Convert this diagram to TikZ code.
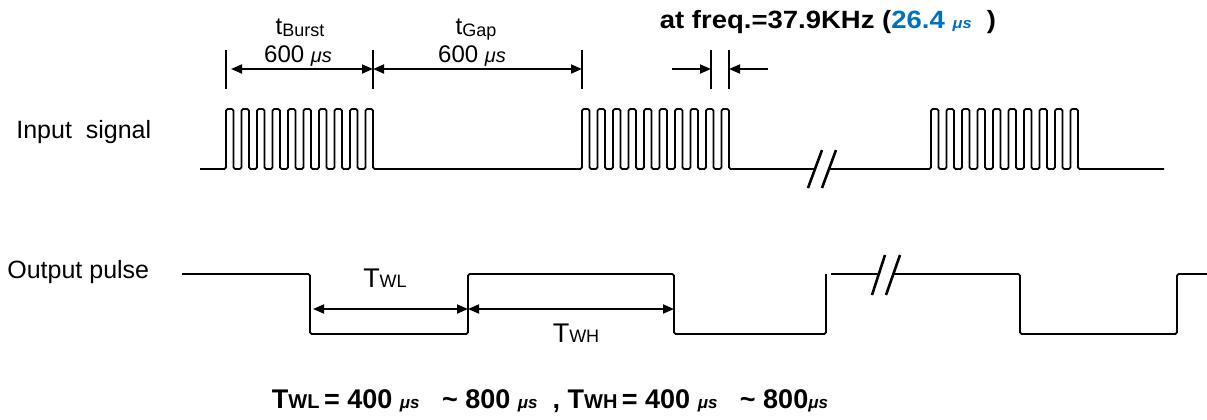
\documentclass[tikz,border=0pt]{standalone}
\usepackage{fontspec}
\setmainfont{Liberation Sans}
\newfontfamily\wideb{Liberation Sans}[FakeStretch=1.1]
\usetikzlibrary{arrows.meta}
\definecolor{ublue}{RGB}{0,112,192}
\newcommand\mus[1]{{\fontsize{#1}{#1}\selectfont\itshape μs}}
\newcommand\fsz[1]{\fontsize{#1}{#1}\selectfont}
\begin{document}
\begin{tikzpicture}[x=0.5pt,y=-0.5pt,
  sig/.style={line width=0.9pt, line join=round, rounded corners=0.8pt},
  ext/.style={line width=0.9pt},
  dim/.style={line width=0.9pt, {Triangle[length=5.5pt,width=4.5pt]}-{Triangle[length=5.5pt,width=4.5pt]}},
  one/.style={line width=0.9pt, -{Triangle[length=5.5pt,width=4.5pt]}},
  brk/.style={line width=1.3pt},
  lbl/.style={inner sep=0pt, font=\fsz{12.5}},
  txt/.style={inner sep=0pt, anchor=base}]
\useasboundingbox (0,0) rectangle (1207,419);

% row labels
\node[lbl, anchor=west] (inlbl) at (16,132) {Input\ \ signal};
\node[lbl, anchor=west] (outlbl) at (7,272) {Output pulse};

% input signal
\draw[sig] (200,169) -- (226,169)
  foreach \i in {0,...,9}{ -- (226+15.5*\i,169) -- (226+15.5*\i,109) -- (233.5+15.5*\i,109) -- (233.5+15.5*\i,169)}
  -- (582,169)
  foreach \i in {0,...,9}{ -- (582+15.5*\i,169) -- (582+15.5*\i,109) -- (589.5+15.5*\i,109) -- (589.5+15.5*\i,169)}
  -- (815,169);
\draw[sig] (829,169) -- (931,169)
  foreach \i in {0,...,9}{ -- (931+15.5*\i,169) -- (931+15.5*\i,109) -- (938.5+15.5*\i,109) -- (938.5+15.5*\i,169)}
  -- (1164,169);
\draw[brk] (808,188) -- (822,150);
\draw[brk] (822,188) -- (836,150);

% extension lines
\coordinate (e1) at (226,69);
\coordinate (e2) at (373,69);
\coordinate (e3) at (582,69);
\coordinate (f1) at (711,69);
\coordinate (f2) at (729,69);
\coordinate (fa) at (672,69);
\coordinate (fb) at (768,69);
\foreach \c in {e1,e2,e3,f1,f2}{\draw[ext] (\c) ++(0,-19) -- ++(0,39);}
\draw[dim, shorten <=2.5pt] (e1) -- (e2);
\draw[dim] (e2) -- (e3);
\draw[one] (fa) -- (f1);
\draw[one] (fb) -- (f2);

% labels top
\node[txt] (tb) at (300,34) {\fsz{12}t\raisebox{-1pt}{\fsz{9}Burst}};
\node[txt] (d1) at (298,62) {\fsz{12}600 \mus{10}};
\node[txt] (tg) at (476,34) {\fsz{12}t\raisebox{-1pt}{\fsz{9}Gap}};
\node[txt] (d2) at (472,62) {\fsz{12}600 \mus{10}};
\node[txt] (title) at (828,28) {\wideb\bfseries\fsz{12.5}at freq.=37.9KHz (\textcolor{ublue}{26.4 \mus{7.5}}\ \ )};

% output pulse
\draw[sig] (182,274) -- (310,274) -- (310,334) -- (468,334) -- (468,274) -- (674,274) -- (674,334) -- (826,334) -- (826,274);
\draw[sig] (831,274) -- (878,274);
\draw[sig] (892,274) -- (1020,274) -- (1020,334) -- (1177,334) -- (1177,274) -- (1207,274);
\draw[brk] (872,295) -- (885,255);
\draw[brk] (886,295) -- (900,255);

\coordinate (l1) at (310,309);
\coordinate (l2) at (468,309);
\coordinate (l3) at (674,309);
\draw[dim, shorten <=1.5pt] (l1) -- (l2);
\draw[dim] (l2) -- (l3);
\node[txt] (twl) at (385,287) {\fsz{13.5}T\fsz{9}WL};
\node[txt] (twh) at (576,342) {\fsz{13.5}T\fsz{9}WH};

% bottom formula
\node[txt] (formula) at (550,408) {\bfseries\fsz{13.5}T{\fsz{10}WL}\,= 400 \mus{8.5}\ \ \ \textasciitilde\ 800 \mus{8.5}\ \ , T{\fsz{10}WH}\,= 400 \mus{8.5}\ \ \ \textasciitilde\ 800\mus{8.5}};
\end{tikzpicture}
\end{document}
